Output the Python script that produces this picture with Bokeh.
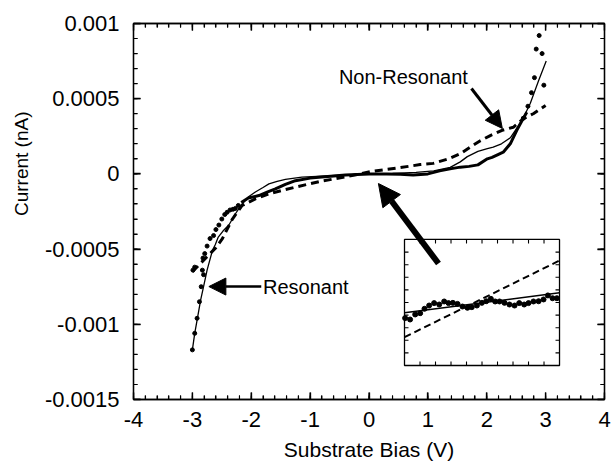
import numpy as np
from bokeh.plotting import figure
from bokeh.models import Range1d, LinearAxis, FixedTicker, Arrow, NormalHead, Label, Title
from bokeh.embed import file_html
from bokeh.resources import INLINE

FONT = "Liberation Sans"

# ---------------- data ----------------
x_major = [-4.0, -3.0, -2.0, -1.0, 0.0, 1.0, 2.0, 3.0, 4.0]
x_tick_labels = ["-4", "-3", "-2", "-1", "0", "1", "2", "3", "4"]
y_major = [-0.0015, -0.001, -0.0005, 0.0, 0.0005, 0.001]
y_tick_labels = ["-0.0015", "-0.001", "-0.0005", "0", "0.0005", "0.001"]

# thin solid curve
fit_v = [-3.0, -2.96, -2.91, -2.86, -2.81, -2.75, -2.66, -2.61, -2.56, -2.48, -2.38, -2.26,
         -2.155, -2.04, -1.93, -1.80, -1.70, -1.56, -1.42, -1.14, -0.8, -0.4, 0.0, 0.4, 0.8,
         1.1, 1.38, 1.55, 1.67, 1.85, 2.01, 2.11, 2.25, 2.40, 2.52, 2.60, 2.74, 2.88, 3.01]
fit_i = [-0.00117, -0.00106, -0.00095, -0.00084, -0.00075, -0.00064, -0.00051, -0.00047,
         -0.00042, -0.00038, -0.00034, -0.00026, -0.00020, -0.00015, -0.00012, -0.00009,
         -0.000066, -0.00005, -0.000037, -0.000022, -0.000015, -0.000007, 0.0, 0.000004,
         0.00001, 0.00002, 0.000043, 0.00008, 0.000115, 0.00015, 0.000168, 0.000178, 0.0002,
         0.00024, 0.00031, 0.000355, 0.00047, 0.00062, 0.00075]

# thick solid curve (resonant data, dense part)
res_v = [-2.17, -2.05, -1.87, -1.72, -1.59, -1.42, -1.25, -1.0, -0.7, -0.4, 0.0, 0.3, 0.53,
         0.75, 1.0, 1.2, 1.4, 1.55, 1.7, 1.85, 2.01, 2.09, 2.2, 2.28, 2.40, 2.51, 2.60, 2.68]
res_i = [-0.00019, -0.00016, -0.000144, -0.00012, -0.0001, -0.00007, -0.000045, -0.000028,
         -0.000018, -0.000008, 0.0, 0.0, -0.000002, -0.000008, 0.0, 0.00002, 0.000035,
         0.000045, 0.00005, 0.00006, 0.0001, 0.00011, 0.00013, 0.000144, 0.0002, 0.00029,
         0.000355, 0.00041]

# sparse resonant data points
dot_v = [-3.0, -2.96, -2.92, -2.88, -2.85, -2.81, -2.99, -2.96, -2.83, -2.82, -2.79, -2.75,
         -2.70, -2.64, -2.60, -2.55, -2.50, -2.45, -2.41, -2.36, -2.31, -2.27, -2.22,
         2.62, 2.70, 2.76, 2.81, 2.97, 2.84, 2.94, 2.89]
dot_i = [-0.00117, -0.00106, -0.00096, -0.00085, -0.00075, -0.00067, -0.00064, -0.00062,
         -0.00064, -0.00056, -0.00053, -0.00048, -0.00043, -0.00041, -0.00037, -0.00034,
         -0.0003, -0.00027, -0.000255, -0.00024, -0.000235, -0.00023, -0.00021,
         0.00037, 0.00045, 0.00054, 0.00064, 0.00059, 0.00083, 0.0008, 0.00092]

# dashed curve (non-resonant)
nr_v = [-3.0, -2.9, -2.8, -2.7, -2.6, -2.49, -2.32, -2.155, -1.93, -1.70, -1.48, -1.25, -0.83,
        -0.4, 0.02, 0.5, 0.87, 1.09, 1.35, 1.55, 1.72, 1.89, 2.06, 2.26, 2.45, 2.62, 2.79, 3.0]
nr_i = [-0.00065, -0.00061, -0.00057, -0.00053, -0.00049, -0.00043, -0.0003, -0.00021,
        -0.000166, -0.000132, -0.00011, -0.000088, -0.00005, -0.00002, 0.000015, 0.00004,
        0.000062, 0.00007, 0.0001, 0.000134, 0.000178, 0.00022, 0.000255, 0.00029, 0.00031,
        0.000366, 0.0004, 0.000455]

# inset (normalised coordinates 0..1)
inset_x_span = [0.603, 3.236]
inset_y_span = [-0.001274, -0.000436]
inset_ticks = [0.1, 0.2, 0.3, 0.4, 0.5, 0.6, 0.7, 0.8, 0.9]
inset_line_x = [0.0, 1.0]
inset_fit_y = [0.418, 0.577]
inset_nr_y = [0.225, 0.833]
inset_dot_x = [0.004, 0.036, 0.069, 0.101, 0.129, 0.159, 0.191, 0.224, 0.256, 0.284, 0.312,
               0.342, 0.374, 0.406, 0.434, 0.467, 0.499, 0.527, 0.557, 0.585, 0.613, 0.645,
               0.677, 0.710, 0.740, 0.772, 0.800, 0.832, 0.865, 0.897, 0.925, 0.955, 0.983]
inset_dot_y = [0.376, 0.365, 0.405, 0.415, 0.450, 0.476, 0.495, 0.484, 0.508, 0.495, 0.497,
               0.489, 0.468, 0.458, 0.463, 0.476, 0.497, 0.510, 0.529, 0.508, 0.508, 0.497,
               0.484, 0.476, 0.495, 0.484, 0.495, 0.508, 0.510, 0.524, 0.556, 0.534, 0.534]

# annotations
big_arrow = [1.18, -0.000596, 0.16, -0.000064]
nonres_arrow = [1.74, 0.000568, 2.265, 0.000302]
res_arrow = [-1.83, -0.000749, -2.72, -0.000749]
nonres_label = [0.584, 0.000641]
res_label = [-1.80, -0.000749]

# ---------------- figure ----------------
X0, X1, Y0, Y1 = -4.0, 4.0, -0.0015, 0.001
FRAME_W, FRAME_H = 471, 376
x_minor = [round(X0 + 0.2 * k, 2) for k in range(41)]
y_minor = [round(Y0 + 0.0001 * k, 5) for k in range(26)]

p = figure(width=611, height=463, x_range=Range1d(X0, X1), y_range=Range1d(Y0, Y1),
           output_backend="svg", toolbar_location=None,
           min_border_left=133, min_border_right=7, min_border_top=23, min_border_bottom=64)
p.grid.visible = False
p.outline_line_color = "black"
p.outline_line_width = 1.3
p.background_fill_color = "white"
p.border_fill_color = "white"

def style_axis(ax, show_labels):
    ax.major_tick_in = 7
    ax.major_tick_out = 0
    ax.minor_tick_in = 4
    ax.minor_tick_out = 0
    ax.major_tick_line_color = "black"
    ax.minor_tick_line_color = "black"
    ax.major_tick_line_width = 1.3
    ax.minor_tick_line_width = 1.1
    ax.axis_line_color = "black"
    ax.axis_line_width = 1.3
    if show_labels:
        ax.major_label_text_font = FONT
        ax.major_label_text_font_size = "22px"
        ax.major_label_text_color = "black"

xa = p.xaxis[0]
xa.ticker = FixedTicker(ticks=x_major, minor_ticks=x_minor)
xa.major_label_overrides = dict(zip(x_major, x_tick_labels))
style_axis(xa, True)
xa.major_label_standoff = 12
xa.axis_label = "Substrate Bias (V)"
xa.axis_label_text_font = FONT
xa.axis_label_text_font_size = "21px"
xa.axis_label_text_font_style = "normal"
xa.axis_label_text_color = "black"
xa.axis_label_standoff = 8

ya = p.yaxis[0]
ya.ticker = FixedTicker(ticks=y_major, minor_ticks=y_minor)
ya.major_label_overrides = dict(zip(y_major, y_tick_labels))
style_axis(ya, True)
ya.major_label_standoff = 14

top = LinearAxis(ticker=FixedTicker(ticks=x_major, minor_ticks=x_minor),
                 major_label_overrides={t: "" for t in x_major}, major_label_standoff=0)
style_axis(top, False)
p.add_layout(top, "above")
right = LinearAxis(ticker=FixedTicker(ticks=y_major, minor_ticks=y_minor),
                   major_label_overrides={t: "" for t in y_major}, major_label_standoff=0)
style_axis(right, False)
p.add_layout(right, "right")

# inward tick marks on all four sides as broken polylines (pixel lengths -> data units)
def dx(px):
    return px * (X1 - X0) / FRAME_W

def dy(px):
    return px * (Y1 - Y0) / FRAME_H

def tick_path(pos, start, stop):
    a, b = [], []
    for t in pos:
        a += [t, t, np.nan]
        b += [start, stop, np.nan]
    return np.array(a, dtype=float), np.array(b, dtype=float)

for ticks, L, w in ((x_minor, 4, 1.1), (x_major, 7, 1.3)):
    for edge, sign in ((Y0, 1), (Y1, -1)):
        xs, ys = tick_path(ticks, edge, edge + sign * dy(L))
        p.line(xs, ys, line_color="black", line_width=w)
for ticks, L, w in ((y_minor, 4, 1.1), (y_major, 7, 1.3)):
    for edge, sign in ((X0, 1), (X1, -1)):
        ys, xs = tick_path(ticks, edge, edge + sign * dx(L))
        p.line(xs, ys, line_color="black", line_width=w)

# curves
p.line(nr_v, nr_i, line_color="black", line_width=3, line_dash="8 5")
p.line(fit_v, fit_i, line_color="black", line_width=1.3)
p.line(res_v, res_i, line_color="black", line_width=3)
p.scatter(dot_v, dot_i, size=4, color="black")

# inset
sub = p.subplot(x_source=Range1d(0, 1), y_source=Range1d(0, 1),
                x_target=Range1d(*inset_x_span), y_target=Range1d(*inset_y_span))
sub.quad(left=[0], right=[1], bottom=[0], top=[1], fill_color="white",
         line_color="black", line_width=1.3)
ITX, ITY = 4 / 155, 4 / 126
for edge, sign in ((0.0, 1), (1.0, -1)):
    xs, ys = tick_path(inset_ticks, edge, edge + sign * ITY)
    sub.line(xs, ys, line_color="black", line_width=1.1)
    ys, xs = tick_path(inset_ticks, edge, edge + sign * ITX)
    sub.line(xs, ys, line_color="black", line_width=1.1)
sub.line(inset_line_x, inset_nr_y, line_color="black", line_width=2, line_dash="7 4")
sub.line(inset_line_x, inset_fit_y, line_color="black", line_width=1.5)
sub.scatter(inset_dot_x, inset_dot_y, size=5, color="black")

# arrows and labels
p.add_layout(Arrow(x_start=big_arrow[0], y_start=big_arrow[1], x_end=big_arrow[2], y_end=big_arrow[3],
                   line_width=6, line_color="black",
                   end=NormalHead(size=22, fill_color="black", line_color="black")))
p.add_layout(Arrow(x_start=nonres_arrow[0], y_start=nonres_arrow[1], x_end=nonres_arrow[2], y_end=nonres_arrow[3],
                   line_width=3, line_color="black",
                   end=NormalHead(size=17, fill_color="black", line_color="black")))
p.add_layout(Arrow(x_start=res_arrow[0], y_start=res_arrow[1], x_end=res_arrow[2], y_end=res_arrow[3],
                   line_width=2.5, line_color="black",
                   end=NormalHead(size=17, fill_color="black", line_color="black")))

p.add_layout(Label(x=nonres_label[0], y=nonres_label[1], text="Non-Resonant", text_align="center",
                   text_baseline="middle", text_font=FONT, text_font_size="20px", text_color="black"))
p.add_layout(Label(x=res_label[0], y=res_label[1], text="Resonant", text_align="left",
                   text_baseline="middle", text_font=FONT, text_font_size="20px", text_color="black"))

# y-axis title (placed in the left panel, shifted upward like the original)
p.add_layout(Title(text="Current (nA)", align="right", offset=88, vertical_align="top",
                   standoff=16, text_font=FONT, text_font_size="19px",
                   text_font_style="normal", text_color="black"), "left")

open("out.html", "w").write(file_html(p, INLINE))
